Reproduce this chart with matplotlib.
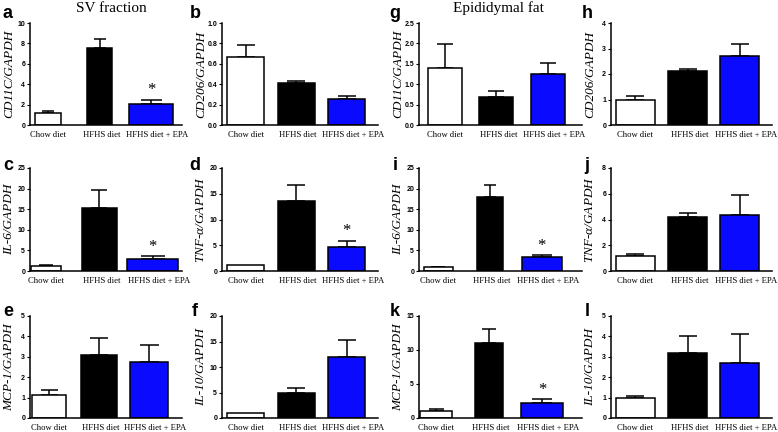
import matplotlib
matplotlib.use('Agg')
import matplotlib.pyplot as plt

W, H = 778, 432

groups = ['Chow diet', 'HFHS diet', 'HFHS diet + EPA']
colors = ['white', 'black', '#0a0aff']

# bar heights (mean) and top of the error bar for each panel
cd11c_sv = [1.14, 7.55, 2.02]
cd11c_sv_err = [1.38, 8.47, 2.5]
cd206_sv = [0.668, 0.414, 0.254]
cd206_sv_err = [0.78, 0.433, 0.283]
il6_sv = [1.2, 15.3, 2.9]
il6_sv_err = [1.4, 19.6, 3.65]
tnfa_sv = [1.1, 13.5, 4.75]
tnfa_sv_err = [1.1, 16.7, 5.86]
mcp1_sv = [1.11, 3.07, 2.75]
mcp1_sv_err = [1.36, 3.92, 3.6]
il10_sv = [1.04, 4.93, 11.9]
il10_sv_err = [1.04, 5.97, 15.3]

cd11c_epi = [1.4, 0.69, 1.26]
cd11c_epi_err = [1.99, 0.83, 1.52]
cd206_epi = [0.98, 2.12, 2.70]
cd206_epi_err = [1.13, 2.21, 3.19]
il6_epi = [0.9, 17.9, 3.5]
il6_epi_err = [1.05, 20.9, 3.9]
tnfa_epi = [1.13, 4.23, 4.38]
tnfa_epi_err = [1.34, 4.54, 5.9]
mcp1_epi = [1.02, 11.1, 2.24]
mcp1_epi_err = [1.27, 13.15, 2.73]
il10_epi = [1.0, 3.21, 2.68]
il10_epi_err = [1.1, 4.03, 4.14]

# letter, y label, values, error tops, ymax, ystep, star on EPA bar
panels = [
    ('a', 'CD11C/GAPDH', cd11c_sv, cd11c_sv_err, 10, 2, True),
    ('b', 'CD206/GAPDH', cd206_sv, cd206_sv_err, 1.0, 0.2, False),
    ('g', 'CD11C/GAPDH', cd11c_epi, cd11c_epi_err, 2.5, 0.5, False),
    ('h', 'CD206/GAPDH', cd206_epi, cd206_epi_err, 4, 1, False),
    ('c', 'IL-6/GAPDH', il6_sv, il6_sv_err, 25, 5, True),
    ('d', r'TNF-$\alpha$/GAPDH', tnfa_sv, tnfa_sv_err, 20, 5, True),
    ('i', 'IL-6/GAPDH', il6_epi, il6_epi_err, 25, 5, True),
    ('j', r'TNF-$\alpha$/GAPDH', tnfa_epi, tnfa_epi_err, 8, 2, False),
    ('e', 'MCP-1/GAPDH', mcp1_sv, mcp1_sv_err, 5, 1, False),
    ('f', 'IL-10/GAPDH', il10_sv, il10_sv_err, 20, 5, False),
    ('k', 'MCP-1/GAPDH', mcp1_epi, mcp1_epi_err, 15, 5, True),
    ('l', 'IL-10/GAPDH', il10_epi, il10_epi_err, 5, 1, False),
]

# layout in pixels
col_x = [(30, 182), (222, 378), (419, 582), (611, 772)]
row_y = [(23, 125), (168, 271), (316, 418)]
letter_x = [8, 195, 395, 587]
letter_y = [14, 166, 312]

default_xlim = (-0.47, 2.62)
default_width = [0.74, 0.74, 0.74]
xlim_override = {
    'a': (-0.35, 2.6), 'c': (-0.3, 2.55), 'i': (-0.37, 2.78),
    'k': (-0.32, 2.75), 'e': (-0.38, 2.66), 'g': (-0.5, 2.66),
}
width_override = {
    'a': [0.5, 0.49, 0.84], 'c': [0.55, 0.65, 0.95], 'i': [0.56, 0.5, 0.77],
    'k': [0.6, 0.53, 0.78], 'e': [0.68, 0.72, 0.76], 'g': [0.66, 0.66, 0.66],
}
label_pos = [0, 1.04, 2.12]

serif = 'Liberation Serif'
sans = 'Liberation Sans'
plt.rcParams['mathtext.fontset'] = 'custom'
plt.rcParams['mathtext.it'] = 'Liberation Serif:italic'
plt.rcParams['mathtext.rm'] = 'Liberation Serif:italic'

fig = plt.figure(figsize=(W / 100, H / 100), dpi=100)

for n, (letter, gene, vals, tops, ymax, ystep, star) in enumerate(panels):
    r, c = divmod(n, 4)
    x0, x1 = col_x[c]
    yt, yb = row_y[r]
    ax = fig.add_axes([x0 / W, 1 - yb / H, (x1 - x0) / W, (yb - yt) / H])
    xs = [0, 1, 2]
    widths = width_override.get(letter, default_width)
    ax.bar(xs, vals, width=widths, color=colors, edgecolor='black', linewidth=1.1, zorder=2)
    errs = [t - v for t, v in zip(tops, vals)]
    for x, v, e, w in zip(xs, vals, errs, widths):
        if e > 0:
            ax.errorbar([x], [v], yerr=[[0], [e]], fmt='none', ecolor='black',
                        elinewidth=1.1, capsize=w * 9, capthick=1.1, zorder=1)
    if star:
        ax.annotate('*', (2, tops[2]), xytext=(0, 1), textcoords='offset points',
                    ha='center', va='bottom', fontsize=12, family=serif)
    ax.set_xlim(*xlim_override.get(letter, default_xlim))
    ax.set_ylim(0, ymax)
    ticks = [i * ystep for i in range(int(round(ymax / ystep)) + 1)]
    ax.set_yticks(ticks)
    if ystep < 1:
        ax.set_yticklabels([f'{t:.1f}' for t in ticks])
    else:
        ax.set_yticklabels([f'{t:g}' for t in ticks])
    for lab in ax.get_yticklabels():
        lab.set_fontfamily(sans)
        lab.set_fontweight('bold')
        lab.set_fontsize(5)
    ax.set_xticks(label_pos)
    ax.set_xticklabels(groups, fontsize=6.2, family=serif)
    ax.tick_params(axis='x', length=0, pad=4)
    ax.tick_params(axis='y', length=2.5, width=0.8, pad=1)
    for s in ['top', 'right']:
        ax.spines[s].set_visible(False)
    for s in ['left', 'bottom']:
        ax.spines[s].set_linewidth(1.1)
    fig.text((x0 - 21) / W, 1 - (yt + yb) / 2 / H, gene, rotation=90, ha='center', va='center',
             fontsize=9.5, family=serif, style='italic')
    fig.text(letter_x[c] / W, 1 - letter_y[r] / H, letter, ha='center', va='center',
             fontsize=13, family=sans, fontweight='bold')

fig.text(111 / W, 1 - 8 / H, 'SV fraction', ha='center', va='center', fontsize=11, family=serif)
fig.text(498 / W, 1 - 8 / H, 'Epididymal fat', ha='center', va='center', fontsize=11, family=serif)

fig.savefig('out.png', dpi=100)
